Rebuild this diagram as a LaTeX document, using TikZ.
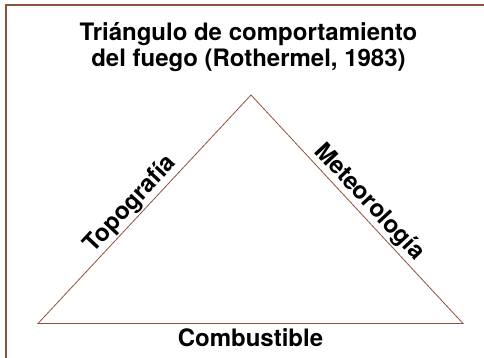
\documentclass[tikz,border=0pt]{standalone}
\usepackage{fontspec}
\setmainfont{TeX Gyre Heros}
\definecolor{marron}{RGB}{139,84,58}
\tikzset{
	marco/.style={draw=marron, line width=1.6pt},
	lado/.style={draw=marron, line width=0.8pt},
	rotulo/.style={font=\bfseries\fontsize{24}{26.5}\selectfont, text=black}
}
\begin{document}
\begin{tikzpicture}[x=1pt, y=1pt]
		\useasboundingbox ( 0, 0 ) rectangle ( 484, 358 );

		% marco
		\draw [marco] ( 6, -20 ) rectangle ( 504, 353 );

		% titulo
		\node [rotulo, align=center, anchor=base] (titulo) at ( 248.5, 291 ) {Triángulo de comportamiento\\del fuego (Rothermel, 1983)};

		% triangulo
		\coordinate (izq) at ( 38, 34.5 );
		\coordinate (cima) at ( 251, 263 );
		\coordinate (der) at ( 463, 34.5 );
		\draw [lado] (izq) -- node [rotulo, sloped, above, pos=0.48, inner sep=1.5pt] (topo) {Topografía}
			(cima) -- node [rotulo, sloped, above, pos=0.51, inner sep=1.5pt] (meteo) {Meteorología}
			(der) -- node [rotulo, below, midway, inner sep=5pt] (comb) {Combustible}
			cycle;
	\end{tikzpicture}
\end{document}
